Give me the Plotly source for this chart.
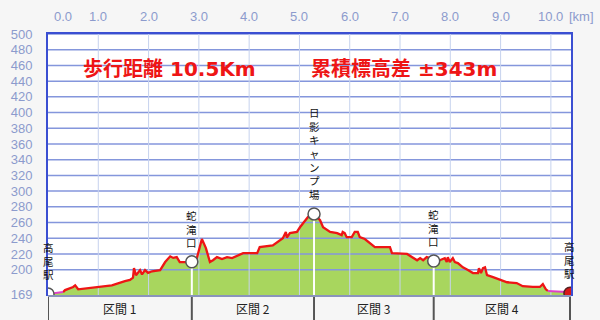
import plotly.graph_objects as go

# ---------------- data ----------------
wp_names = ["高尾駅", "蛇滝口", "日影キャンプ場", "蛇滝口", "高尾駅"]
wp_km = [0.0, 2.86, 5.29, 7.67, 10.38]
wp_m = [169, 210, 271, 211, 170]

section_names = ["区間 1", "区間 2", "区間 3", "区間 4"]

road_a_km = [0.0, 0.30]
road_a_m = [169, 171.5]

trail_km = [0.30, 0.34, 0.50, 0.54, 0.60, 0.93, 1.27, 1.53, 1.63, 1.69, 1.71, 1.75,
            1.83, 1.87, 1.93, 1.99, 2.07, 2.23, 2.33, 2.43, 2.49, 2.56, 2.62, 2.78, 2.86,
            2.96, 3.06, 3.14, 3.22, 3.28, 3.36, 3.46, 3.56, 3.66, 3.82, 3.88, 4.16, 4.21,
            4.47, 4.57, 4.67, 4.73, 4.75, 4.81, 4.95, 5.01, 5.07, 5.17, 5.25, 5.29,
            5.41, 5.47, 5.61, 5.75, 5.84, 5.86, 5.90, 5.94, 6.04, 6.10, 6.16, 6.20, 6.30,
            6.40, 6.50, 6.80, 6.84, 7.14, 7.26, 7.34, 7.40, 7.46, 7.53, 7.59, 7.67,
            7.79, 7.89, 7.93, 7.95, 7.99, 8.05, 8.09, 8.15, 8.25, 8.35, 8.45, 8.55, 8.57,
            8.61, 8.65, 8.69, 8.73, 8.85, 8.99, 9.13, 9.32, 9.44, 9.64, 9.78, 9.84, 9.90, 9.94]
trail_m = [171.5, 174, 178, 180, 175, 177, 180, 185.5, 187, 190, 202, 193,
           199.5, 194, 199.5, 196, 198, 199.5, 209.7, 217, 215, 216, 209.7, 209.7, 210,
           214.7, 239, 227.5, 209.7, 212, 216, 213.5, 216, 214.7, 220, 221, 221, 228.7,
           231, 235, 240, 248, 241, 246.5, 248, 254, 259, 267, 269, 271,
           263, 254, 248, 246.5, 244, 248, 246.5, 241.4, 241.4, 248, 248, 241.4, 239,
           234, 228.7, 228.7, 221, 220, 214.7, 212, 214.7, 212, 216, 214.7, 211,
           212, 214.7, 209.7, 216, 209.7, 214.7, 209.7, 208.4, 203, 199.5, 195.7, 195.7, 202,
           195.7, 202, 203, 193, 190.6, 186.8, 184, 183, 179, 178, 178, 181.7, 175, 173]

road_b_km = [9.94, 10.32, 10.38]
road_b_m = [173, 171.5, 170]

km_ticks = list(range(0, 11))
km_labels = ["%.1f" % k for k in km_ticks]
m_ticks = [169] + list(range(200, 501, 20))
m_labels = [str(v) for v in m_ticks]

title_left = "歩行距離 10.5Km"
title_right = "累積標高差 ±343m"

# ---------------- style ----------------
X_MAX = 10.4
Y_MIN = 166.5
Y_MAX = 500
BLUE = "#3b4fd2"
GRID_H = "#8496dc"
GRID_V = "#c6d2ee"
LABEL_C = "#8c9bcd"
RED = "#ee1515"

fig = go.Figure()

all_km = road_a_km + trail_km[1:] + road_b_km[1:]
all_m = road_a_m + trail_m[1:] + road_b_m[1:]

# fill
fig.add_trace(go.Scatter(x=all_km, y=all_m, mode="lines", line=dict(width=0),
                         fill="tozeroy", fillcolor="#a8d65e", hoverinfo="skip"))

# grid lines drawn above the fill
gx, gy = [], []
for v in m_ticks[1:]:
    gx += [0, X_MAX, None]
    gy += [v, v, None]
fig.add_trace(go.Scatter(x=gx, y=gy, mode="lines", line=dict(color=GRID_H, width=1.5),
                         hoverinfo="skip"))
vx, vy = [], []
for k in km_ticks[1:]:
    vx += [k, k, None]
    vy += [Y_MIN, Y_MAX, None]
fig.add_trace(go.Scatter(x=vx, y=vy, mode="lines", line=dict(color=GRID_V, width=1),
                         hoverinfo="skip"))

# white drop lines from waypoints
dx, dy = [], []
for k, m in zip(wp_km[1:-1], wp_m[1:-1]):
    dx += [k, k, None]
    dy += [m, Y_MIN, None]
fig.add_trace(go.Scatter(x=dx, y=dy, mode="lines", line=dict(color="white", width=2),
                         hoverinfo="skip"))

# profile lines
fig.add_trace(go.Scatter(x=trail_km, y=trail_m, mode="lines",
                         line=dict(color=RED, width=2.3), hoverinfo="skip"))
for xs, ys in ((road_a_km, road_a_m), (road_b_km, road_b_m)):
    fig.add_trace(go.Scatter(x=xs, y=ys, mode="lines",
                             line=dict(color="#e040c8", width=2), hoverinfo="skip"))

# waypoint markers
fig.add_trace(go.Scatter(x=wp_km[:-1], y=wp_m[:-1], mode="markers",
                         marker=dict(size=12, color="white",
                                     line=dict(color="#555555", width=1.5)),
                         hoverinfo="skip"))
fig.add_trace(go.Scatter(x=[wp_km[-1]], y=[wp_m[-1]], mode="markers",
                         marker=dict(size=12, color="#d81818",
                                     line=dict(color="#552222", width=1.5)),
                         hoverinfo="skip"))

ann = []
# top km labels
for k, lab in zip(km_ticks, km_labels):
    ann.append(dict(x=k, y=1, xref="x", yref="paper", text=lab, showarrow=False,
                    xanchor="left" if k == 0 else "center", xshift=4 if k == 0 else 0,
                    yanchor="middle", yshift=18,
                    font=dict(family="Liberation Sans", size=13, color=LABEL_C)))
ann.append(dict(x=km_ticks[-1], y=1, xref="x", yref="paper", text="[km]", showarrow=False,
                xanchor="left", xshift=16, yanchor="middle", yshift=18,
                font=dict(family="Liberation Sans", size=13, color=LABEL_C)))

# titles
for txt, px in ((title_left, 0.064), (title_right, 0.499)):
    ann.append(dict(x=px, y=0.866, xref="paper", yref="paper", text="<b>%s</b>" % txt,
                    showarrow=False, xanchor="left", yanchor="middle",
                    font=dict(family="DejaVu Sans, Noto Sans CJK JP", size=20, color=RED)))

# vertical waypoint names (one character per line)
for name, k, m in zip(wp_names, wp_km, wp_m):
    ann.append(dict(x=k, y=m, xref="x", yref="y", text="<br>".join(name),
                    showarrow=False, xanchor="center", yanchor="bottom", yshift=11,
                    borderpad=0,
                    font=dict(family="Noto Sans CJK JP", size=10.5, color="#111111")))

# section labels
for i, s in enumerate(section_names):
    ann.append(dict(x=(wp_km[i] + wp_km[i + 1]) / 2, y=-12 / 262, xref="x", yref="paper",
                    text=s, showarrow=False, xanchor="center", yanchor="middle",
                    font=dict(family="Noto Sans CJK JP", size=12, color="#222222")))

shapes = [dict(type="line", xref="paper", yref="paper", x0=0, x1=1, y0=0, y1=0,
               line=dict(color="#8a94bc", width=2))]
for k in wp_km:
    shapes.append(dict(type="line", xref="x", yref="paper", x0=k, x1=k,
                       y0=-1 / 262, y1=-26 / 262, line=dict(color="#555555", width=2)))

fig.update_layout(
    width=600, height=320,
    margin=dict(l=48, r=29, t=34, b=24),
    paper_bgcolor="#f6f6f6", plot_bgcolor="white",
    showlegend=False,
    annotations=ann, shapes=shapes,
    xaxis=dict(range=[0, X_MAX], side="top", showgrid=False, zeroline=False,
               showline=True, linecolor=BLUE, linewidth=2, showticklabels=False,
               fixedrange=True),
    yaxis=dict(range=[Y_MIN, Y_MAX], tickvals=m_ticks, ticktext=m_labels,
               showgrid=False, zeroline=False, showline=True, linecolor=BLUE,
               linewidth=2, mirror=True, ticks="", ticklabelstandoff=11,
               tickfont=dict(family="Liberation Sans", size=13, color=LABEL_C),
               fixedrange=True),
)

fig.write_html("out.html")
